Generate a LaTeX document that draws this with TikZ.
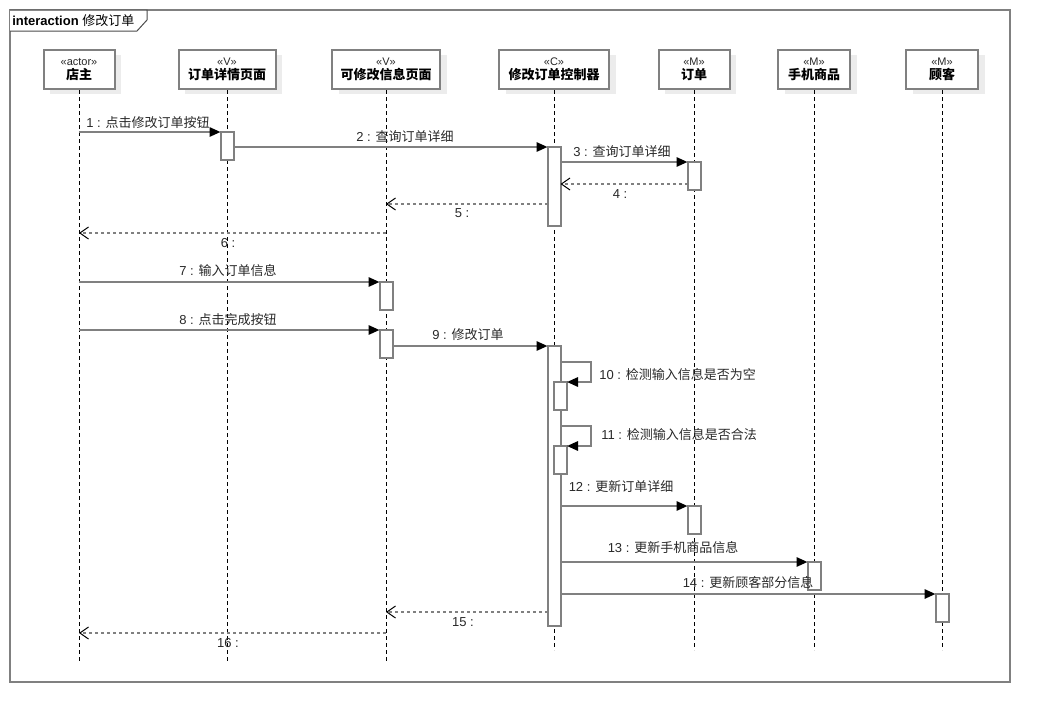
\documentclass[tikz,border=0pt]{standalone}
\usepackage{fontspec}
\setmainfont{Liberation Sans}
\newfontfamily\cjk{Noto Sans CJK SC}
\usetikzlibrary{arrows.meta,shadows}
\definecolor{lg}{RGB}{128,128,128}
\definecolor{shd}{RGB}{236,236,236}
\definecolor{txt}{RGB}{40,40,40}
\tikzset{
  head/.style={draw=lg, line width=1.5pt, fill=white, minimum height=29.25pt, inner sep=0pt, align=center,
    drop shadow={shadow xshift=5pt, shadow yshift=-3.5pt, fill=shd, opacity=1},
    font=\fontsize{9.75pt}{10.8pt}\selectfont},
  act/.style={draw=lg, line width=1.5pt, fill=white, minimum width=9.75pt, minimum height=21pt, inner sep=0pt, outer sep=0pt, anchor=north},
  life/.style={draw=black, line width=0.75pt, dash pattern=on 3pt off 2.25pt},
  msg/.style={draw=lg, line width=1.5pt, -{Triangle[length=8.25pt,width=7pt,color=black]}},
  ret/.style={draw=lg, line width=1.5pt, dash pattern=on 2.25pt off 2.25pt,
    -{Straight Barb[length=6.5pt,width=9pt,line width=0.75pt,color=black]}},
  lbl/.style={font=\fontsize{9.75pt}{11pt}\selectfont, inner sep=0pt, text=txt},
}
\newcommand{\stereo}[1]{{\fontsize{8.25pt}{9pt}\selectfont\color{txt}#1}}
\begin{document}
\begin{tikzpicture}[x=0.75pt,y=-0.75pt]
\useasboundingbox (0,0) rectangle (1050,722);
% frame
\draw[lg, line width=1.5pt] (10,10) rectangle (1010,682);
\draw[black!70, line width=0.75pt, fill=white] (10,10) -- (147,10) -- (147,20) -- (137,31) -- (10,31);
\node[anchor=west, inner sep=0pt, font=\fontsize{9.75pt}{11pt}\selectfont] (title) at (12,21) {\bfseries interaction {\cjk\mdseries 修改订单}};

% heads
\node[head, minimum width=53.25pt] (h0) at (79,69.5) {\stereo{«actor»}\\{\cjk\bfseries 店主}};
\node[head, minimum width=72.75pt] (h1) at (227,69.5) {\stereo{«V»}\\{\cjk\bfseries 订单详情页面}};
\node[head, minimum width=81pt] (h2) at (386,69.5) {\stereo{«V»}\\{\cjk\bfseries 可修改信息页面}};
\node[head, minimum width=82.5pt] (h3) at (554,69.5) {\stereo{«C»}\\{\cjk\bfseries 修改订单控制器}};
\node[head, minimum width=53.25pt] (h4) at (694,69.5) {\stereo{«M»}\\{\cjk\bfseries 订单}};
\node[head, minimum width=54pt] (h5) at (814,69.5) {\stereo{«M»}\\{\cjk\bfseries 手机商品}};
\node[head, minimum width=54pt] (h6) at (942,69.5) {\stereo{«M»}\\{\cjk\bfseries 顾客}};

% lifeline ends
\coordinate (e0) at (79,662);
\coordinate (e1) at (227,662);
\coordinate (e2) at (386,662);
\coordinate (e3) at (554,650);
\coordinate (e4) at (694,650);
\coordinate (e5) at (814,650);
\coordinate (e6) at (942,650);
\foreach \i in {0,...,6} {\draw[life] (h\i.south) -- (e\i);}

% y levels of return / self messages
\coordinate (y4) at (0,184);
\coordinate (y5) at (0,204);
\coordinate (y6) at (0,233);
\coordinate (y10) at (0,362);
\coordinate (y11) at (0,426);
\coordinate (y15) at (0,612);
\coordinate (y16) at (0,633);

% activations
\node[act] (a1) at (227,132) {};
\node[act, minimum height=59.25pt] (ac1) at (554,147) {};
\node[act] (ao1) at (694,162) {};
\node[act] (av1) at (386,282) {};
\node[act] (av2) at (386,330) {};
\node[act, minimum height=210pt] (ac2) at (554,346) {};
\node[act] (an1) at (560.5,382) {};
\node[act] (an2) at (560.5,446) {};
\node[act] (ao2) at (694,506) {};
\node[act] (ap1) at (814,562) {};
\node[act] (ak1) at (942,594) {};

% messages
\draw[msg] (e0 |- a1.north) -- (a1.north west);
\draw[msg] (a1.east |- ac1.north) -- (ac1.north west);
\draw[msg] (ac1.east |- ao1.north) -- (ao1.north west);
\draw[ret] (ao1.west |- y4) -- (ac1.east |- y4);
\draw[ret] (ac1.west |- y5) -- (e2 |- y5);
\draw[ret] (e2 |- y6) -- (e0 |- y6);
\draw[msg] (e0 |- av1.north) -- (av1.north west);
\draw[msg] (e0 |- av2.north) -- (av2.north west);
\draw[msg] (av2.east |- ac2.north) -- (ac2.north west);
\draw[msg] (ac2.east |- y10) -- ++(30,0) |- (an1.north east);
\draw[msg] (ac2.east |- y11) -- ++(30,0) |- (an2.north east);
\draw[msg] (ac2.east |- ao2.north) -- (ao2.north west);
\draw[msg] (ac2.east |- ap1.north) -- (ap1.north west);
\draw[msg] (ac2.east |- ak1.north) -- (ak1.north west);
\draw[ret] (ac2.west |- y15) -- (e2 |- y15);
\draw[ret] (e2 |- y16) -- (e0 |- y16);

% labels
\node[lbl] (t1) at (148,123) {1 : {\cjk 点击修改订单按钮}};
\node[lbl] (t2) at (405,137) {2 : {\cjk 查询订单详细}};
\node[lbl] (t3) at (622,152) {3 : {\cjk 查询订单详细}};
\node[lbl] (t4) at (620,194) {4 :};
\node[lbl] (t5) at (462,213) {5 :};
\node[lbl] (t6) at (228,243) {6 :};
\node[lbl] (t7) at (228,271) {7 : {\cjk 输入订单信息}};
\node[lbl] (t8) at (228,320) {8 : {\cjk 点击完成按钮}};
\node[lbl] (t9) at (468,335) {9 : {\cjk 修改订单}};
\node[lbl, anchor=west] (t10) at (599,375) {10 : {\cjk 检测输入信息是否为空}};
\node[lbl, anchor=west] (t11) at (601,435) {11 : {\cjk 检测输入信息是否合法}};
\node[lbl] (t12) at (621,487) {12 : {\cjk 更新订单详细}};
\node[lbl] (t13) at (673,548) {13 : {\cjk 更新手机商品信息}};
\node[lbl] (t14) at (748,583) {14 : {\cjk 更新顾客部分信息}};
\node[lbl] (t15) at (463,622) {15 :};
\node[lbl] (t16) at (228,643) {16 :};
\end{tikzpicture}
\end{document}
